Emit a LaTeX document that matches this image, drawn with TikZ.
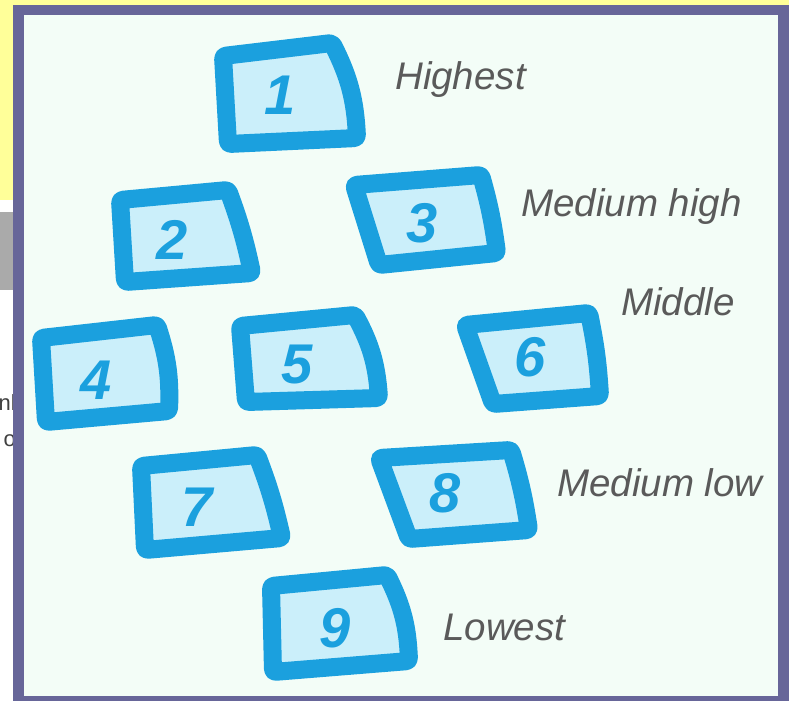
\documentclass[tikz,border=0pt]{standalone}
\usepackage{fontspec}
\setmainfont{Liberation Sans}
\definecolor{bblue}{HTML}{1BA0DE}
\definecolor{bfill}{HTML}{CBEFFA}
\definecolor{mint}{HTML}{F3FDF7}
\definecolor{frame}{HTML}{676699}
\definecolor{slideyellow}{HTML}{FFFF99}
\definecolor{slidegray}{HTML}{AAAAAA}
\definecolor{lblgray}{HTML}{5A5A5A}
\tikzset{
  qbox/.style={draw=bblue, fill=bfill, line width=18pt, line join=round, rounded corners=3pt},
  numtxt/.style={text=bblue, font=\fontsize{56}{56}\selectfont\bfseries\itshape, inner sep=0pt},
  lbl/.style={text=lblgray, font=\fontsize{38.5}{38.5}\selectfont\itshape, anchor=base west, inner sep=0pt},
  sidetxt/.style={text=black!75, font=\fontsize{22}{22}\selectfont, anchor=base east, inner sep=0pt}
}
\begin{document}
\begin{tikzpicture}[x=1pt,y=-1pt]
\useasboundingbox (0,0) rectangle (789,701);
% slide background behind
\fill[white] (0,0) rectangle (789,701);
\fill[slideyellow] (0,0) rectangle (789,200);
\fill[slidegray] (0,212) rectangle (30,290);
\node[sidetxt] (s1) at (16,410) {nl};
\node[sidetxt] (s2) at (16,446) {o};
% frame
\fill[frame] (13,5) rectangle (789,701);
\fill[mint] (24,15) rectangle (778,696);
% boxes
\draw[qbox] (223,56) -- (332,43) to[bend left=12] (357,138) -- (228,144) -- cycle;
\node[numtxt] (n1) at (280,95) {1};
\draw[qbox] (120,200) -- (228,190) to[bend left=4] (252,273) -- (125,282) -- cycle;
\node[numtxt] (n2) at (172,240) {2};
\draw[qbox] (354,185) -- (481,175) to[bend left=4] (497,253) -- (379,265) -- cycle;
\node[numtxt] (n3) at (422,223) {3};
\draw[qbox] (41,338) -- (157,325) to[bend left=10] (169,411) -- (46,422) -- cycle;
\node[numtxt] (n4) at (96,380) {4};
\draw[qbox] (240,326) -- (355,315) to[bend left=12] (379,398) -- (246,402) -- cycle;
\node[numtxt] (n5) at (297,365) {5};
\draw[qbox] (465,325) -- (589,313) to[bend left=4] (600,396) -- (493,404) -- cycle;
\node[numtxt] (n6) at (530,357) {6};
\draw[qbox] (141,466) -- (257,455) to[bend left=4] (282,538) -- (145,550) -- cycle;
\node[numtxt] (n7) at (197,507) {7};
\draw[qbox] (379,458) -- (511,450) to[bend left=4] (529,530) -- (409,539) -- cycle;
\node[numtxt] (n8) at (445,493) {8};
\draw[qbox] (271,586) -- (387,575) to[bend left=12] (409,661) -- (273,672) -- cycle;
\node[numtxt] (n9) at (335,628) {9};
% labels
\node[lbl] (l1) at (395,89) {Highest};
\node[lbl] (l2) at (521,216) {Medium high};
\node[lbl] (l3) at (621,315) {Middle};
\node[lbl] (l4) at (557,496) {Medium low};
\node[lbl] (l5) at (443,640) {Lowest};
\end{tikzpicture}
\end{document}
